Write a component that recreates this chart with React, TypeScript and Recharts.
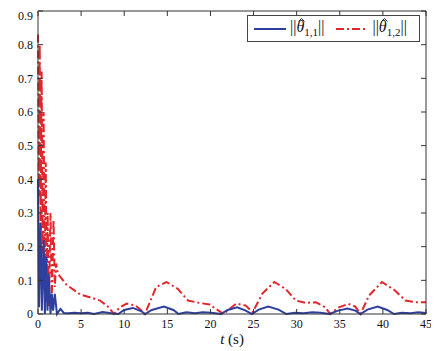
import React from 'react';
import { LineChart, Line, XAxis, YAxis } from 'recharts';

// series 1: ||theta_{1,1}||
const blueTime = [0, 0.12, 0.3, 0.45, 0.65, 0.8, 0.95, 1.1, 1.25, 1.45, 1.6, 1.75, 1.95, 2.2, 2.6, 3.0, 3.5, 4.2, 5.0, 5.8, 6.5, 7.5, 8.5, 9.3, 10.0, 11.0, 12.0, 12.4, 13.2, 14.6, 15.7, 16.3, 17.2, 18.2, 19.1, 20.1, 21.2, 22.0, 23.1, 24.1, 24.8, 25.6, 26.7, 27.9, 28.8, 29.8, 30.8, 31.8, 32.8, 33.8, 34.8, 35.9, 36.8, 37.4, 38.2, 39.4, 40.5, 41.3, 42.2, 43.2, 44.1, 45];
const blueValue = [0.40, 0.02, 0.27, 0.01, 0.22, 0.0, 0.17, 0.01, 0.12, 0.0, 0.06, 0.01, 0.06, 0.0, 0.015, 0.003, 0.002, 0.004, 0.002, 0.004, 0.0, 0.006, 0.002, 0.0, 0.012, 0.018, 0.008, 0.0, 0.012, 0.022, 0.012, 0.0, 0.005, 0.002, 0.005, 0.004, 0.0, 0.012, 0.02, 0.01, 0.0, 0.013, 0.022, 0.013, 0.0, 0.004, 0.002, 0.005, 0.004, 0.0, 0.01, 0.016, 0.01, 0.0, 0.013, 0.022, 0.012, 0.0, 0.004, 0.002, 0.005, 0.003];

// series 2: ||theta_{1,2}||
const redTime = [0, 0.1, 0.2, 0.3, 0.42, 0.55, 0.65, 0.78, 0.9, 1.0, 1.12, 1.25, 1.45, 1.6, 1.8, 1.95, 2.1, 2.3, 3.3, 4.9, 6.0, 7.2, 8.2, 8.8, 9.5, 10.3, 11.3, 11.8, 12.4, 13.7, 14.9, 16.2, 17.4, 18.7, 19.9, 21.5, 23.0, 24.1, 24.9, 26.0, 27.4, 28.7, 29.9, 31.0, 32.2, 33.3, 33.9, 34.9, 36.0, 36.8, 37.4, 38.4, 39.9, 41.4, 42.6, 43.8, 45];
const redValue = [0.83, 0.35, 0.8, 0.25, 0.72, 0.18, 0.6, 0.12, 0.45, 0.08, 0.3, 0.02, 0.3, 0.05, 0.28, 0.08, 0.15, 0.12, 0.087, 0.058, 0.05, 0.04, 0.02, 0.0, 0.02, 0.031, 0.025, 0.015, 0.0, 0.08, 0.095, 0.075, 0.04, 0.033, 0.028, 0.0, 0.031, 0.025, 0.005, 0.06, 0.095, 0.075, 0.04, 0.033, 0.035, 0.02, 0.0, 0.02, 0.03, 0.022, 0.0, 0.055, 0.095, 0.07, 0.04, 0.035, 0.035];

const xTicks = [0, 5, 10, 15, 20, 25, 30, 35, 40, 45];
const yTicks = [0, 0.1, 0.2, 0.3, 0.4, 0.5, 0.6, 0.7, 0.8, 0.9];

const blueData = blueTime.map((t, i) => ({ t, v: blueValue[i] }));
const redData = redTime.map((t, i) => ({ t, v: redValue[i] }));

const X_MAX = 45;
const Y_MAX = 0.9;

// chart box
const W = 431;
const H = 343;
const MARGIN = { top: 3, right: 13, left: 0, bottom: 7 };
const Y_AXIS_W = 30;
const X_AXIS_H = 30;
const PLOT = {
    left: MARGIN.left + Y_AXIS_W,
    top: MARGIN.top,
    width: W - MARGIN.left - MARGIN.right - Y_AXIS_W,
    height: H - MARGIN.top - MARGIN.bottom - X_AXIS_H,
};

const BLUE = '#2f3f9f';
const RED = '#e3262b';
const AXIS = '#333';
const FONT = '"Liberation Serif", "DejaVu Serif", serif';
const tickStyle = { fill: '#111', fontSize: 12, fontFamily: FONT };

const Hat = () => (
    <svg width={7} height={4} style={{ position: 'absolute', left: 2, top: 0 }}>
        <path d="M0.5 3.5 L3.5 0.5 L6.5 3.5" fill="none" stroke="#111" strokeWidth={0.9} />
    </svg>
);

const NormLabel = ({ sub }: { sub: string }) => (
    <span style={{ fontFamily: FONT, fontSize: 16, color: '#111', whiteSpace: 'nowrap' }}>
        ||
        <span style={{ position: 'relative', display: 'inline-block' }}>
            <i>θ</i>
            <Hat />
        </span>
        <sub style={{ fontSize: 11 }}>{sub}</sub>||
    </span>
);

const ChartLegend = () => (
    <div style={{
        position: 'absolute',
        left: 239,
        top: 7,
        width: 173,
        border: '1px solid #444',
        background: '#fff',
        height: 27,
        display: 'flex',
        alignItems: 'center',
        padding: '0 6px',
        boxSizing: 'border-box'
    }}>
        <svg width={32} height={6} style={{ marginRight: 4 }}>
            <line x1={0} y1={3} x2={32} y2={3} stroke={BLUE} strokeWidth={2} />
        </svg>
        <NormLabel sub="1,1" />
        <svg width={32} height={6} style={{ marginLeft: 12, marginRight: 4 }}>
            <line x1={0} y1={3} x2={32} y2={3} stroke={RED} strokeWidth={2} strokeDasharray="8 3 2 3" />
        </svg>
        <NormLabel sub="1,2" />
    </div>
);

// top and right edges of the MATLAB-style box, with inward ticks
const BoxFrame = () => {
    const right = PLOT.left + PLOT.width;
    const bottom = PLOT.top + PLOT.height;
    return (
        <svg width={W} height={H} style={{ position: 'absolute', left: 0, top: 0, pointerEvents: 'none' }}>
            <line x1={PLOT.left} y1={PLOT.top} x2={right} y2={PLOT.top} stroke={AXIS} />
            <line x1={right} y1={PLOT.top} x2={right} y2={bottom} stroke={AXIS} />
            {xTicks.map((t) => {
                const x = PLOT.left + (t / X_MAX) * PLOT.width;
                return <line key={`tx${t}`} x1={x} y1={PLOT.top} x2={x} y2={PLOT.top + 5} stroke={AXIS} />;
            })}
            {yTicks.map((v) => {
                const y = bottom - (v / Y_MAX) * PLOT.height;
                return <line key={`ty${v}`} x1={right} y1={y} x2={right - 5} y2={y} stroke={AXIS} />;
            })}
        </svg>
    );
};

const renderXLabel = (props: any) => {
    const { viewBox } = props;
    const cx = viewBox.x + viewBox.width / 2;
    return (
        <text x={cx} y={viewBox.y + 30} textAnchor="middle" fontFamily={FONT} fontSize={15} fill="#111">
            <tspan fontStyle="italic">t</tspan>
            <tspan> (s)</tspan>
        </text>
    );
};

export default function App() {
    return (
        <div style={{ position: 'relative', width: W, height: H }}>
            <style>{'html, body { overflow: hidden; }'}</style>
            <LineChart width={W} height={H} margin={MARGIN}>
                <XAxis
                    dataKey="t"
                    type="number"
                    domain={[0, X_MAX]}
                    ticks={xTicks}
                    tickSize={-5}
                    tickMargin={10}
                    height={X_AXIS_H}
                    stroke={AXIS}
                    tick={tickStyle}
                    label={renderXLabel}
                />
                <YAxis
                    type="number"
                    domain={[0, Y_MAX]}
                    ticks={yTicks}
                    tickSize={-5}
                    tickMargin={10}
                    width={Y_AXIS_W}
                    stroke={AXIS}
                    tick={tickStyle}
                    tickFormatter={(v: number) => String(v)}
                />
                <Line
                    data={redData}
                    dataKey="v"
                    type="linear"
                    stroke={RED}
                    strokeWidth={2}
                    strokeDasharray="8 3 2 3"
                    dot={false}
                    isAnimationActive={false}
                />
                <Line
                    data={blueData}
                    dataKey="v"
                    type="linear"
                    stroke={BLUE}
                    strokeWidth={2}
                    dot={false}
                    isAnimationActive={false}
                />
            </LineChart>
            <BoxFrame />
            <ChartLegend />
        </div>
    );
}
